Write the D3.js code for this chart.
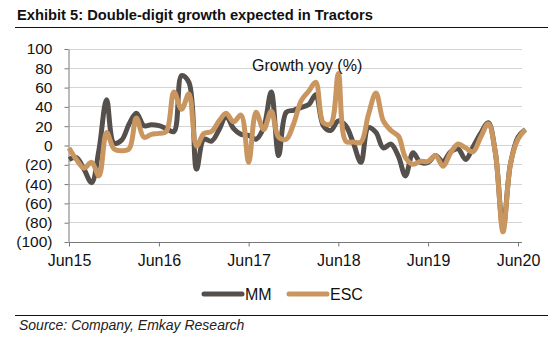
<!DOCTYPE html>
<html>
<head>
<meta charset="utf-8">
<script src="https://cdn.jsdelivr.net/npm/d3@7"></script>
<style>
  body { margin: 0; background: #fff; }
  svg { font-family: Arial, "Liberation Sans", sans-serif; }
</style>
</head>
<body>
<svg width="557" height="340"></svg>
<script>
// monthly yoy growth, Jun15 .. Jul20
const months = d3.timeMonth.range(new Date(2015, 5, 1), new Date(2020, 7, 1))

const mm = [-15, -13, -25, -39, -5, 47, 2, 5, 22, 33, 20, 21,
  20, 17, 14, 72, 65, -25, 6, 4, 16, 30, 17, 11,
  10, 6, 18, 55, -11, 34, 36, 39, 42, 52, 20, 15,
  25, 20, 2, -18, 18, 13, -3, 1, -12, -32, -8, -18,
  -18, -11, -17, -7, -4, -15, -2, 12, 23, -8, -86, -20, 8, 16]

const esc = [-3, -15, -24, -18, -32, 13, -4, -6, -4, 28, 8, 11,
  12, 14, 55, 37, 53, -1, 12, 14, 25, 33, 24, 31,
  -18, 34, 16, 35, 8, 6, 22, 46, 56, 65, 23, 22,
  74, 4, 3, 3, 31, 54, 25, 15, 9, -13, -20, -17,
  -17, -11, -22, -8, 1, -3, -7, 8, 22, -8, -90, -20, 6, 16]

const xTickLabels = ['Jun15', 'Jun16', 'Jun17', 'Jun18', 'Jun19', 'Jun20']
const xTickDates = [2015, 2016, 2017, 2018, 2019, 2020].map(y => new Date(y, 5, 1))
const yTicks = [100, 80, 60, 40, 20, 0, -20, -40, -60, -80, -100]

const series = [
  { name: 'MM', values: mm, color: '#56504d' },
  { name: 'ESC', values: esc, color: '#c99660' }
]

const svg = d3.select('svg')
const fontSize = '16px'

// title + rule
svg.append('text')
  .attr('x', 17).attr('y', 20)
  .style('font-size', '14.7px').style('font-weight', 'bold')
  .attr('fill', '#111')
  .text('Exhibit 5: Double-digit growth expected in Tractors')
svg.append('line')
  .attr('x1', 15).attr('x2', 548).attr('y1', 27.5).attr('y2', 27.5)
  .attr('stroke', '#111').attr('stroke-width', 1)

const x = d3.scaleTime()
  .domain([xTickDates[0], xTickDates[5]])
  .range([69, 518])
const y = d3.scaleLinear()
  .domain([-100, 100])
  .range([241.5, 48.5])
const plotRight = 522

// gridlines
svg.append('g')
  .selectAll('line')
  .data(yTicks.filter(v => v > -100))
  .join('line')
  .attr('x1', x.range()[0]).attr('x2', plotRight)
  .attr('y1', d => Math.round(y(d)) + 0.5).attr('y2', d => Math.round(y(d)) + 0.5)
  .attr('stroke', '#d4d4d4').attr('stroke-width', 1)

// y axis
const yAxis = svg.append('g')
  .attr('transform', 'translate(' + (x.range()[0] - 0.5) + ',0.5)')
  .call(d3.axisLeft(y)
    .tickValues(yTicks)
    .tickFormat(v => v < 0 ? '(' + (-v) + ')' : v)
    .tickSize(4)
    .tickSizeOuter(0)
    .tickPadding(12))
yAxis.select('.domain').attr('stroke', '#777')
yAxis.selectAll('.tick line').attr('stroke', '#777')
yAxis.selectAll('.tick text')
  .style('font-size', '15.5px').attr('fill', '#111')
  .attr('font-family', 'Arial, "Liberation Sans", sans-serif')

// x axis
const xAxis = svg.append('g')
  .attr('transform', 'translate(0,' + (Math.round(y(-100)) + 0.5) + ')')
  .call(d3.axisBottom(x)
    .tickValues(xTickDates)
    .tickFormat((d, i) => xTickLabels[i])
    .tickSize(4)
    .tickSizeOuter(0)
    .tickPadding(8))
xAxis.select('.domain').attr('d', 'M' + x.range()[0] + ',0H' + plotRight).attr('stroke', '#777')
xAxis.selectAll('.tick line').attr('stroke', '#777')
xAxis.selectAll('.tick text')
  .style('font-size', fontSize).attr('fill', '#111')
  .attr('font-family', 'Arial, "Liberation Sans", sans-serif')

// series lines
const line = d3.line()
  .x((d, i) => x(months[i]))
  .y(d => y(d))
  .curve(d3.curveCatmullRom.alpha(0.5))

svg.append('g')
  .selectAll('path')
  .data(series)
  .join('path')
  .attr('d', d => line(d.values))
  .attr('fill', 'none')
  .attr('stroke', d => d.color)
  .attr('stroke-width', 5)
  .attr('stroke-linejoin', 'round')

svg.append('text')
  .attr('x', 252).attr('y', 71)
  .style('font-size', fontSize).attr('fill', '#111')
  .text('Growth yoy (%)')

// legend
const legend = svg.append('g')
const legendX = [202, 287]
series.forEach((s, i) => {
  legend.append('line')
    .attr('x1', legendX[i] + 2).attr('x2', legendX[i] + 40)
    .attr('y1', 294).attr('y2', 294)
    .attr('stroke', s.color).attr('stroke-width', 5)
    .attr('stroke-linecap', 'round')
  legend.append('text')
    .attr('x', legendX[i] + 43).attr('y', 300)
    .style('font-size', fontSize).attr('fill', '#111')
    .text(s.name)
})

// footer
svg.append('line')
  .attr('x1', 15).attr('x2', 548).attr('y1', 315.5).attr('y2', 315.5)
  .attr('stroke', '#111').attr('stroke-width', 1)
svg.append('text')
  .attr('x', 19).attr('y', 330)
  .style('font-size', '14px').style('font-style', 'italic')
  .attr('fill', '#222')
  .text('Source: Company, Emkay Research')
</script>
</body>
</html>
